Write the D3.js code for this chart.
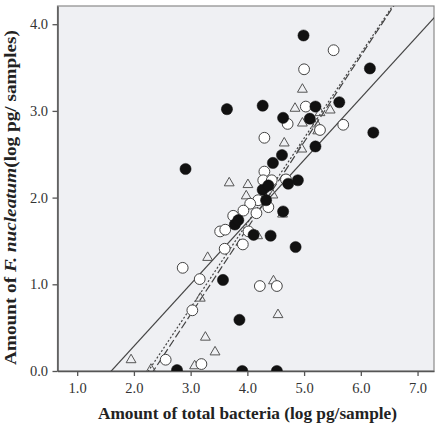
<!DOCTYPE html>
<html><head><meta charset="utf-8">
<script src="https://cdn.jsdelivr.net/npm/d3@7"></script>
<style>body{margin:0;background:#fff}svg{display:block}</style>
</head><body>
<svg id="c" width="436" height="424"></svg>
<script>
const xTicks = [1,2,3,4,5,6,7];
const yTicks = [0,1,2,3,4];
const filled = [[4.99,3.87],[6.16,3.49],[5.62,3.10],[3.64,3.02],[4.27,3.06],[5.20,3.05],[5.10,2.91],[4.63,2.92],[6.22,2.75],[5.20,2.59],[4.61,2.49],[4.45,2.40],[2.91,2.33],[4.89,2.20],[4.72,2.16],[4.27,2.09],[4.37,2.14],[4.63,1.84],[3.78,1.69],[3.84,1.74],[4.11,1.57],[4.41,1.56],[4.85,1.43],[3.57,1.05],[3.86,0.59],[2.76,0.01],[3.91,0.0],[4.52,0.0],[4.33,1.97]];
const openC = [[5.52,3.70],[5.00,3.48],[5.03,3.05],[4.71,2.85],[5.69,2.84],[5.28,2.78],[4.30,2.69],[4.30,2.30],[4.28,2.20],[4.43,2.20],[4.68,2.21],[4.19,1.97],[4.05,1.93],[3.93,1.85],[3.75,1.79],[4.37,1.89],[4.16,1.82],[3.52,1.61],[3.61,1.63],[4.02,1.61],[3.60,1.41],[3.92,1.46],[2.86,1.19],[3.16,1.06],[4.22,0.98],[4.52,0.98],[3.03,0.70],[2.56,0.13],[3.19,0.08]];
const tri = [[4.97,3.26],[4.84,3.04],[5.46,3.02],[4.97,2.87],[5.28,2.99],[5.24,2.78],[4.65,2.64],[4.96,2.57],[3.68,2.18],[4.01,2.16],[3.98,2.03],[4.45,2.04],[4.18,1.57],[3.30,1.32],[4.46,1.05],[3.17,0.85],[4.54,0.66],[3.26,0.40],[3.43,0.23],[1.95,0.14],[3.07,0.07],[2.30,0.03],[5.22,2.86],[4.62,1.82]];
// fit lines: [slope, intercept, dash]
const fitLines = [[0.716,-1.146,null],[0.978,-2.205,"2,2"],[0.994,-2.329,"8,3"]];

const svg = d3.select("#c");
const L=57.5,R=434,T=6,B=371;
const x = d3.scaleLinear().domain([0.653,7.29]).range([L,R]);
const y = d3.scaleLinear().domain([0,4.21]).range([B,T]);
svg.append("rect").attr("x",L).attr("y",T).attr("width",R-L).attr("height",B-T).attr("fill","#eff0f3").attr("stroke","#8a8a8a").attr("stroke-width",1.2);
svg.append("defs").append("clipPath").attr("id","cp").append("rect").attr("x",L).attr("y",T).attr("width",R-L).attr("height",B-T);

const gx = svg.append("g").attr("transform",`translate(0,${B})`).call(d3.axisBottom(x).tickValues(xTicks).tickFormat(d3.format(".1f")).tickSize(5).tickSizeOuter(0));
const gy = svg.append("g").attr("transform",`translate(${L},0)`).call(d3.axisLeft(y).tickValues(yTicks).tickFormat(d3.format(".1f")).tickSize(5).tickSizeOuter(0));
[gx,gy].forEach(g=>{
  g.select(".domain").attr("stroke","#555").attr("stroke-width",1.5);
  g.selectAll(".tick line").attr("stroke","#555").attr("stroke-width",1.3);
  g.selectAll("text").attr("font-family","Liberation Serif").attr("font-size",14.5).attr("fill","#333");
});
gx.selectAll("text").attr("dy","0.95em");
gy.selectAll("text").attr("dx","-0.1em");

const pl = svg.append("g").attr("clip-path","url(#cp)");
fitLines.forEach(([m,b,d])=>{
  const x0=0.6,x1=7.4;
  pl.append("line").attr("x1",x(x0)).attr("y1",y(m*x0+b)).attr("x2",x(x1)).attr("y2",y(m*x1+b))
    .attr("stroke","#444").attr("stroke-width",1.2).attr("stroke-dasharray",d);
});
const tri_sym = d3.symbol().type(d3.symbolTriangle).size(42);
pl.selectAll(".t").data(tri).join("path").attr("transform",d=>`translate(${x(d[0])},${y(d[1])+1})`).attr("d",tri_sym)
  .attr("fill","none").attr("stroke","#555").attr("stroke-width",1);
pl.selectAll(".o").data(openC).join("circle").attr("cx",d=>x(d[0])).attr("cy",d=>y(d[1])).attr("r",5.4)
  .attr("fill","#fff").attr("stroke","#444").attr("stroke-width",1);
pl.selectAll(".f").data(filled).join("circle").attr("cx",d=>x(d[0])).attr("cy",d=>y(d[1])).attr("r",5.6)
  .attr("fill","#111").attr("stroke","#111").attr("stroke-width",0.5);

svg.append("text").attr("x",247.5).attr("y",419).attr("text-anchor","middle").attr("font-family","Liberation Serif").attr("font-weight","bold").attr("font-size",17).attr("fill","#222")
  .attr("textLength",299).attr("lengthAdjust","spacingAndGlyphs").text("Amount of total bacteria (log pg/sample)");
const yt = svg.append("text").attr("transform","translate(16,197.5) rotate(-90)").attr("text-anchor","middle").attr("font-family","Liberation Serif").attr("font-weight","bold").attr("font-size",17.5).attr("fill","#222")
  .attr("textLength",335).attr("lengthAdjust","spacingAndGlyphs");
yt.append("tspan").text("Amount of ");
yt.append("tspan").attr("font-style","italic").text("F. nucleatum");
yt.append("tspan").text("(log pg/ samples)");
</script>
</body></html>
